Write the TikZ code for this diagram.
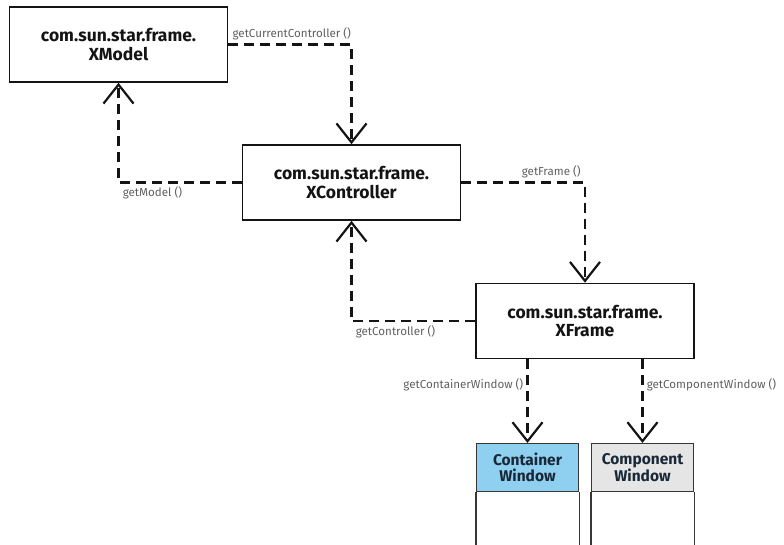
\documentclass[tikz,border=0pt]{standalone}
\usepackage{fontspec}
\setmainfont{Fira Sans}
\usepackage{tikz}
\usetikzlibrary{arrows.meta, positioning, calc}
\definecolor{mydark}{RGB}{20,20,20}
\definecolor{mylabel}{RGB}{95,95,95}
\definecolor{mywintext}{RGB}{25,40,55}
\definecolor{hdrblue}{RGB}{143,207,240}
\definecolor{hdrgray}{RGB}{229,229,229}
\tikzset{
  ifacebox/.style={rectangle, draw=mydark, fill=white, line width=1.6pt,
    minimum width=218pt, minimum height=75pt, align=center,
    font=\fontsize{17.5}{18.5}\selectfont\bfseries, text=mydark},
  winhead/.style={rectangle, draw=mydark!85, line width=1.1pt,
    minimum width=102pt, minimum height=48pt, align=center,
    font=\fontsize{15.5}{16}\selectfont\bfseries, text=mywintext},
  winbody/.style={draw=mydark!85, line width=1.1pt},
  call/.style={line width=2.6pt, color=mydark, dash pattern=on 10pt off 6pt,
    -{Straight Barb[length=19pt, width=30pt, line width=2.2pt]}},
  calllabel/.style={font=\fontsize{11.6}{13}\selectfont, text=mylabel, inner sep=3pt}
}

\begin{document}
\begin{tikzpicture}[x=1pt, y=-1pt]
  \useasboundingbox (0,0) rectangle (784,545);

  \node[ifacebox] (xmodel) at (118.5,44.5) {com.sun.star.frame.\\XModel};
  \node[ifacebox] (xctrl) at (351.5,182.5) {com.sun.star.frame.\\XController};
  \node[ifacebox] (xframe) at (585,321) {com.sun.star.frame.\\XFrame};

  \node[winhead, fill=hdrblue, anchor=north] (cwin) at (527.5,443) {Container\\Window};
  \node[winhead, fill=hdrgray, anchor=north] (compwin) at (642.5,443) {Component\\Window};
  \draw[winbody] (cwin.south west) -- ++(0,60);
  \draw[winbody] (cwin.south east) -- ++(0,60);
  \draw[winbody] (compwin.south west) -- ++(0,60);
  \draw[winbody] (compwin.south east) -- ++(0,60);

  \draw[call] (xmodel.east) -| (xctrl.north)
    node[calllabel, pos=0, anchor=south west] {getCurrentController ()};
  \draw[call] (xctrl.west) -| (xmodel.south)
    node[calllabel, pos=0.5, anchor=north west] {getModel ()};
  \draw[call] (xctrl.east) -| (xframe.north)
    node[calllabel, pos=0.5, anchor=south east] {getFrame ()};
  \draw[call] (xframe.west) -| (xctrl.south)
    node[calllabel, pos=0.5, anchor=north west] {getController ()};
  \draw[call] (xframe.south -| cwin.north) -- (cwin.north)
    node[calllabel, pos=0.3, anchor=east] {getContainerWindow ()};
  \draw[call] (xframe.south -| compwin.north) -- (compwin.north)
    node[calllabel, pos=0.3, anchor=west] {getComponentWindow ()};
\end{tikzpicture}
\end{document}
